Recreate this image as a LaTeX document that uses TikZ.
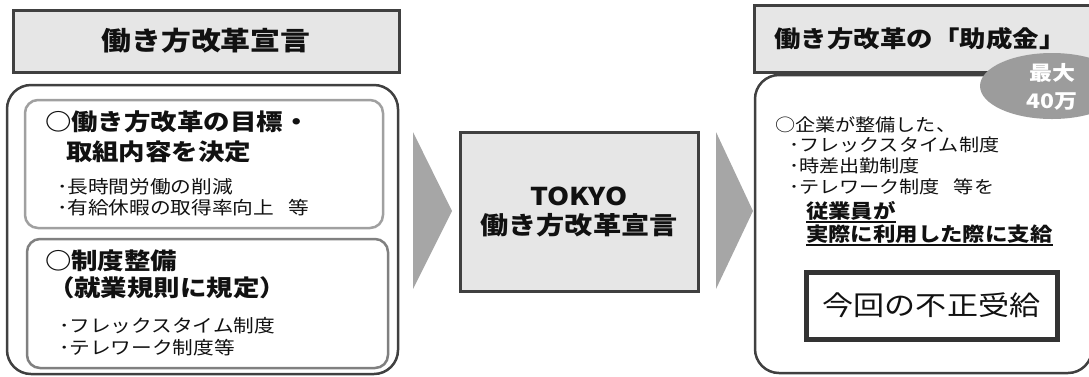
\documentclass[tikz,border=0pt]{standalone}
\usepackage{fontspec}
\setmainfont{Noto Sans CJK JP}[FakeStretch=1.15]
\usetikzlibrary{shapes.geometric}
\definecolor{boxfill}{HTML}{E6E6E6}
\definecolor{boxline}{HTML}{404040}
\definecolor{subline}{HTML}{A0A0A0}
\definecolor{chevfill}{HTML}{A6A6A6}
\definecolor{ovalfill}{HTML}{9C9C9C}
\definecolor{ink}{HTML}{111111}
\newcommand\fs[1]{\fontsize{#1}{#1}\selectfont}

\begin{document}
\begin{tikzpicture}[x=1pt,y=-1pt,inner sep=0pt,outer sep=0pt]
  \tikzstyle{titlebox}=[rectangle,draw=boxline,fill=boxfill,line width=3pt]
  \tikzstyle{panel}=[rectangle,rounded corners=24pt,draw=boxline,fill=white,line width=2.5pt]
  \tikzstyle{subpanel}=[rectangle,rounded corners=13pt,draw=subline,line width=2.5pt]
  \tikzstyle{chevron}=[fill=chevfill,draw=none]
  \tikzstyle{line}=[anchor=west,text=ink]
  \tikzstyle{head}=[line,font=\fs{23}\bfseries]
  \tikzstyle{item}=[line,font=\fs{18}]
  \tikzstyle{ritem}=[line,font=\fs{17.5}]
  \tikzstyle{rbold}=[line,font=\fs{19.5}\bfseries]

  \clip (0,0) rectangle (1089,376);

  % left side
  \node[panel,minimum width=391pt,minimum height=289pt] (lpanel) at (202.5,229.5) {};
  \node[subpanel,minimum width=358pt,minimum height=128pt] (goal) at (204,164) {};
  \node[subpanel,draw=subline!80!black,minimum width=361pt,minimum height=129pt] (rule) at (207.5,303.5) {};
  \node[titlebox,minimum width=386pt,minimum height=62pt,
        font=\fs{26}\bfseries,text=ink] (ltitle) at (206,41) {働き方改革宣言};

  \node[head] (goalhead)  at (45,122) {○働き方改革の目標・};
  \node[head] (goalhead2) at (66,152) {取組内容を決定};
  \node[item] (goalA) at (57,187) {･長時間労働の削減};
  \node[item] (goalB) at (57,208) {･有給休暇の取得率向上\hspace{14pt}等};
  \node[head] (rulehead)  at (45,261) {○制度整備};
  \node[head] (rulehead2) at (48,288) {（就業規則に規定）};
  \node[item] (ruleA) at (59,326) {･フレックスタイム制度};
  \node[item] (ruleB) at (59,348) {･テレワーク制度等};

  % arrows
  \coordinate (c1) at (413,132);
  \coordinate (c2) at (716,132);
  \fill[chevron] (c1) -- ++(39,79) -- ++(-39,78) -- cycle;
  \fill[chevron] (c2) -- ++(37,79) -- ++(-37,78) -- cycle;

  % centre
  \node[titlebox,minimum width=238pt,minimum height=159pt,align=center,
        font=\fontsize{24.5}{29}\selectfont\bfseries,text=ink] (decl) at (579,211.5)
        {TOKYO\\働き方改革宣言};

  % right side
  \node[panel,minimum width=337pt,minimum height=298pt] (rpanel) at (923.5,224) {};
  \node[titlebox,minimum width=346pt,minimum height=67pt] (rtitle) at (927,38.5) {};
  \node[text=ink,font=\fs{23}\bfseries] (rtitletext) at (920,39)
        {働き方改革の「助成金」};
  \node[ellipse,fill=ovalfill,minimum width=144pt,minimum height=66pt] (max) at (1052,86) {};
  \node[align=center,text=white,font=\fontsize{20}{28}\selectfont\bfseries] (maxtext) at (1052,87)
        {最大\\40万};

  \node[ritem] (grantA) at (775,125) {○企業が整備した、};
  \node[ritem] (grantB) at (789,145) {･フレックスタイム制度};
  \node[ritem] (grantC) at (789,166) {･時差出勤制度};
  \node[ritem] (grantD) at (789,187) {･テレワーク制度\hspace{14pt}等を};
  \node[rbold] (useA) at (806,211) {従業員が};
  \node[rbold] (useB) at (806,234) {実際に利用した際に支給};
  \draw[ink,line width=1.6pt] ([yshift=-1.5pt]useA.south west) -- ([yshift=-1.5pt]useA.south east);
  \draw[ink,line width=1.6pt] ([yshift=-1.5pt]useB.south west) -- ([yshift=-1.5pt]useB.south east);

  \node[rectangle,draw=boxline!80!black,fill=white,line width=5pt,minimum width=251pt,minimum height=67pt,
        text=ink,font=\fs{27}] (fraud) at (931.5,305.5) {今回の不正受給};
\end{tikzpicture}
\end{document}
